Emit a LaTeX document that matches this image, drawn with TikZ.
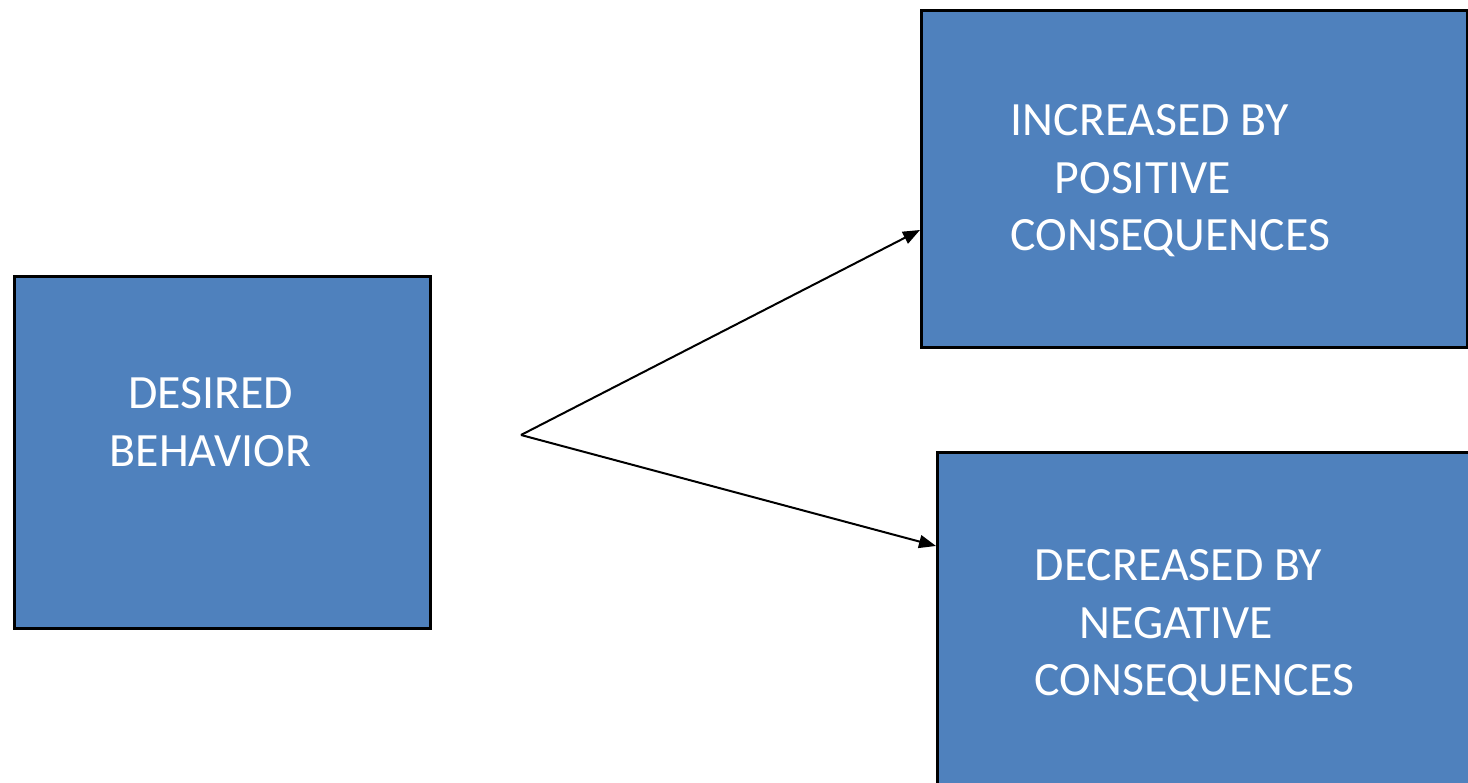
\documentclass[tikz,border=0pt]{standalone}
\usepackage{fontspec}
\setmainfont{Carlito}
\usetikzlibrary{arrows.meta}

\definecolor{boxblue}{HTML}{4F81BD}

\tikzset{
    box/.style={draw=black, line width=0.03cm, fill=boxblue, anchor=north west, inner sep=0pt},
    boxtext/.style={text=white, inner sep=0pt, font=\fontsize{13.6}{16.4}\selectfont},
    link/.style={line width=0.02cm, -{Triangle[length=0.17cm, width=0.13cm]}}
}

\begin{document}
\begin{tikzpicture}
                \useasboundingbox (0, 0) rectangle (14.68, -7.83);

                \clip (0, 0) rectangle (14.68, -7.83);

                \node[box, minimum width=4.16cm, minimum height=3.52cm] (desired) at (0.13, -2.75) {};

                \node[box, minimum width=5.46cm, minimum height=3.37cm] (inc) at (9.20, -0.09) {};

                \node[box, minimum width=5.8cm, minimum height=3.8cm] (dec) at (9.36, -4.51) {};

                \node[boxtext, anchor=north, align=center] (desiredtext) at ([xshift=-0.12cm, yshift=-1.02cm]desired.north) {DESIRED\\BEHAVIOR};

                \node[boxtext, anchor=north west, align=left] (inctext) at ([xshift=0.90cm, yshift=-0.95cm]inc.north west) {INCREASED BY\\\hspace*{0.44cm}POSITIVE\\CONSEQUENCES};

                \node[boxtext, anchor=north west, align=left] (dectext) at ([xshift=0.98cm, yshift=-0.98cm]dec.north west) {DECREASED BY\\\hspace*{0.45cm}NEGATIVE\\CONSEQUENCES};

                \coordinate (fork) at (5.21, -4.35);

                \draw[link] (fork) -- ([yshift=-0.51cm]inc.west);

                \draw[link] (fork) -- ([yshift=-0.95cm]dec.north west);
            \end{tikzpicture}
\end{document}
